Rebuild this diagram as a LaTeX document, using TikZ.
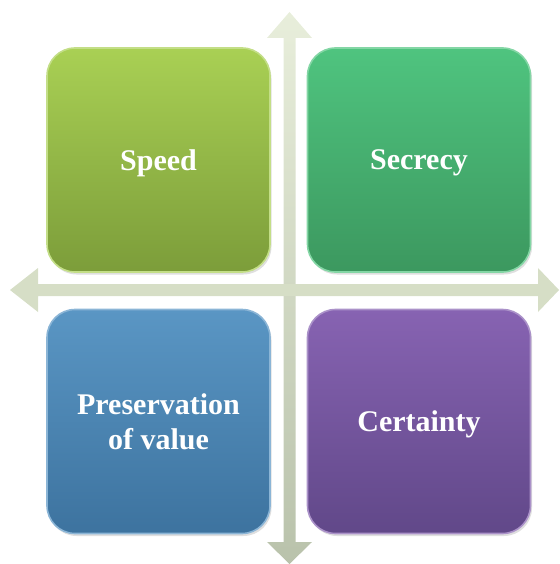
\documentclass[tikz,border=0pt]{standalone}
\usepackage{fontspec}
\setmainfont{Liberation Serif}
\usetikzlibrary{shadows}

\definecolor{speedtop}{HTML}{A9D054}
\definecolor{speedbot}{HTML}{7C9D3A}
\definecolor{secrtop}{HTML}{4FC47F}
\definecolor{secrbot}{HTML}{3C985F}
\definecolor{prestop}{HTML}{5A96C4}
\definecolor{presbot}{HTML}{3D739F}
\definecolor{certtop}{HTML}{8763B2}
\definecolor{certbot}{HTML}{614889}
\definecolor{axislight}{HTML}{E8EEDB}
\definecolor{axisdark}{HTML}{B9C2AB}
\definecolor{axismid}{HTML}{D6DEC6}

\tikzset{
  quad/.style={rounded corners=28pt, minimum width=223pt, minimum height=224pt,
    line width=1.6pt, text=white, align=center, text depth=0pt,
    font=\fontsize{30}{35}\selectfont\bfseries,
    drop shadow={shadow xshift=1.5pt, shadow yshift=-2.5pt, opacity=0.25}},
}

\begin{document}
\begin{tikzpicture}[x=1pt, y=-1pt]
      \useasboundingbox (0,0) rectangle (559,564);

      % AXE VERTICAL
      \coordinate (VT) at (289.5,12);
      \coordinate (VB) at (289.5,564);
      \shade[top color=axislight, bottom color=axisdark]
        (283.5,38)--(267,38)--(VT)--(312,38)--(295.5,38)
        --(295.5,542)--(312,542)--(VB)--(267,542)--(283.5,542)--cycle;

      % AXE HORIZONTAL
      \coordinate (HL) at (10,290);
      \coordinate (HR) at (559,290);
      \fill[axismid]
        (38,284)--(38,268)--(HL)--(38,312)--(38,296)
        --(538,296)--(538,312)--(HR)--(538,268)--(538,284)--cycle;

      % CARRES
      \node[quad, draw=speedtop!70!white, top color=speedtop, bottom color=speedbot]
        (speed) at (158.5,160) {Speed};
      \node[quad, draw=secrtop!70!white, top color=secrtop, bottom color=secrbot]
        (secrecy) at (419,160) {Secrecy};
      \node[quad, draw=prestop!70!white, top color=prestop, bottom color=presbot]
        (preservation) at (158.5,421.5) {Preservation\\of value};
      \node[quad, draw=certtop!70!white, top color=certtop, bottom color=certbot]
        (certainty) at (419,421.5) {Certainty};
\end{tikzpicture}
\end{document}
